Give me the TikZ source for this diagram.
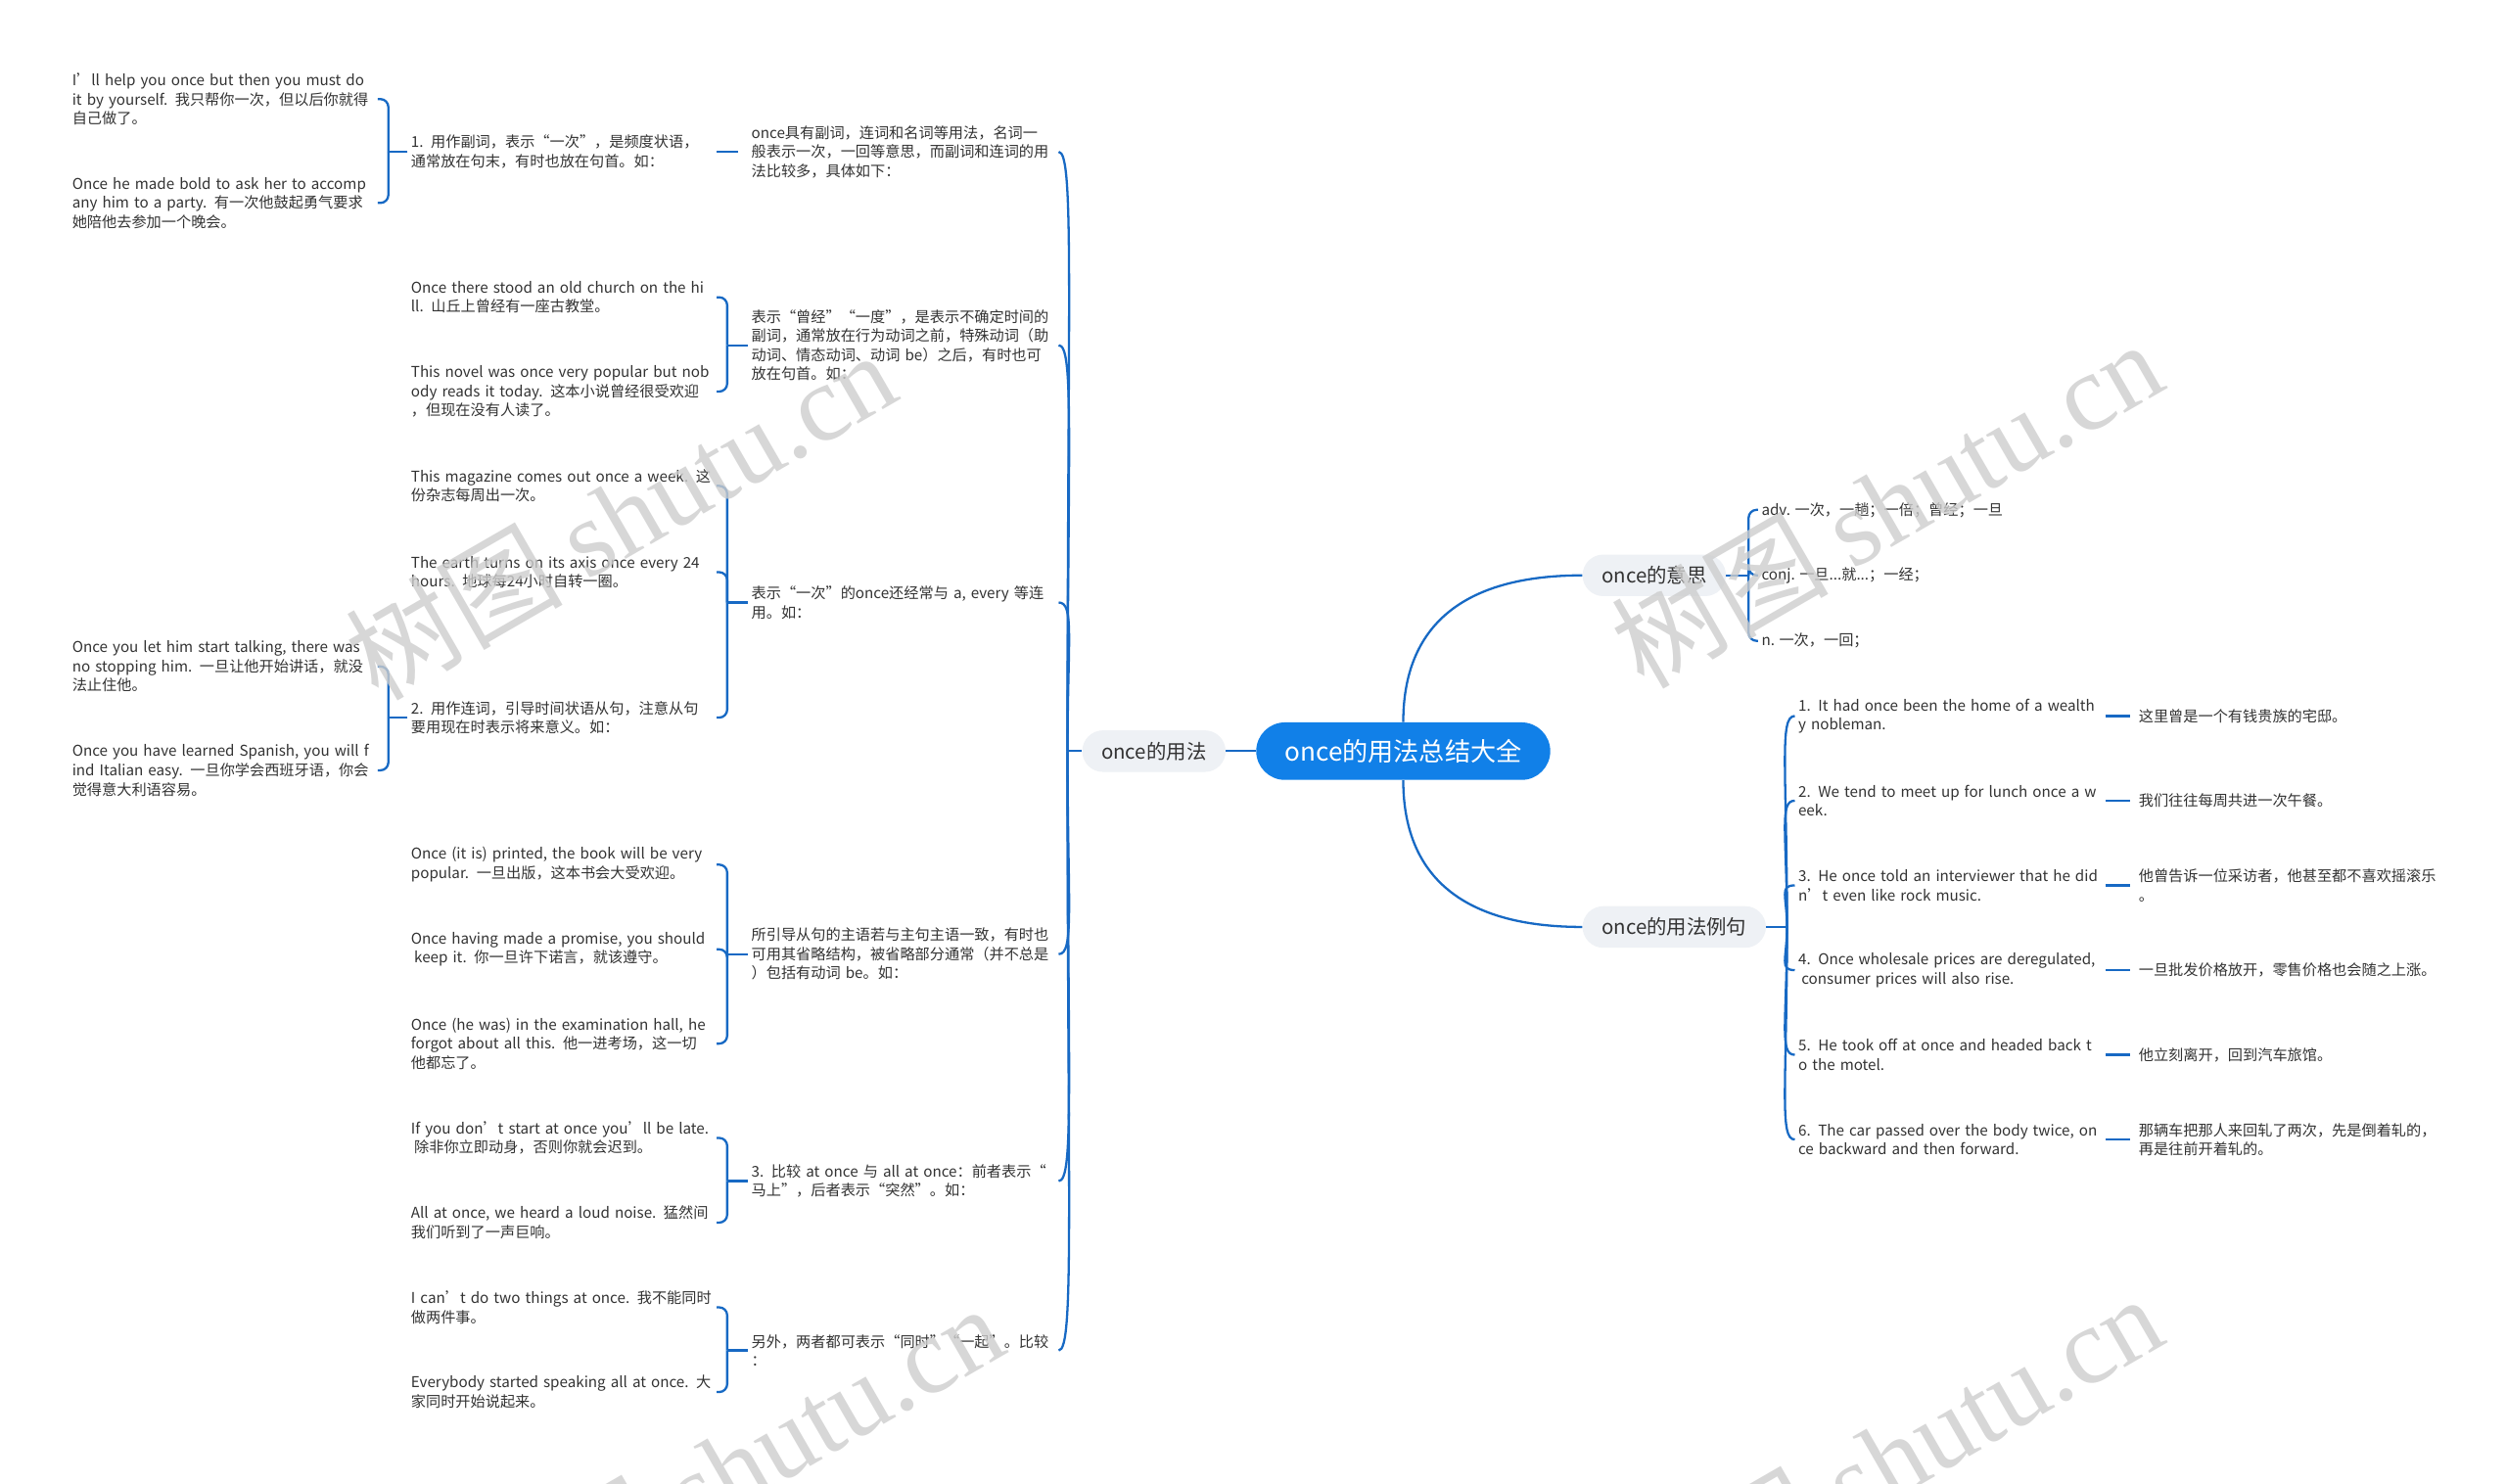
\documentclass[tikz,border=0pt]{standalone}
\usepackage{fontspec}
\setmainfont{Noto Sans CJK SC}
\newfontfamily\wmserif{Liberation Serif}
\usetikzlibrary{calc}
\definecolor{mylink}{RGB}{23,105,196}
\definecolor{myroot}{RGB}{17,128,232}
\definecolor{mybranch}{RGB}{238,241,245}
\definecolor{mytext}{RGB}{51,51,51}
\definecolor{mywater}{RGB}{205,205,205}
\tikzset{
  rootbox/.style={rectangle, fill=myroot, text=white, rounded corners=18pt,
    minimum height=36pt, minimum width=184pt, font=\fontsize{16}{18}\selectfont},
  branchbox/.style={rectangle, fill=mybranch, text=mytext, rounded corners=13pt,
    minimum height=26pt, inner xsep=12pt, font=\fontsize{12.5}{14}\selectfont},
  leaf/.style={anchor=west, inner sep=2pt, align=left, text=mytext,
    font=\fontsize{9.3}{12}\selectfont},
  leafA/.style={leaf, text width=189pt},
  leafB/.style={leaf, text width=189pt},
  leafC/.style={leaf, text width=190pt},
  leafE/.style={leaf, text width=190pt},
  leafZ/.style={leaf, text width=192pt},
  link/.style={draw=mylink, line width=1.4pt},
  bracehook/.style={link, rounded corners=5pt},
  wmark/.style={text=mywater, opacity=0.8, rotate=30, font=\fontsize{68}{68}\selectfont}
}

\begin{document}
\begin{tikzpicture}[x=1pt, y=-1pt]
  \useasboundingbox (0,0) rectangle (1568,928);
  \clip (0,0) rectangle (1568,928);
  \fill[white] (0,0) rectangle (1568,928);

  % root and main branches
  \node[rootbox] (root) at (878,470) {once的用法总结大全};
  \node[branchbox] (usage) at (722,470) {once的用法};
  \node[branchbox, anchor=west] (meaning) at (990,360) {once的意思};
  \node[branchbox, anchor=west] (example) at (990,580) {once的用法例句};
  \draw[link] (root.west) -- (usage.east);
  \draw[link] (root.north) .. controls +(0,-60) and +(-75,0) .. (meaning.west);
  \draw[link] (root.south) .. controls +(0,60) and +(-75,0) .. (example.west);

  % once的用法
  \node[leafC] (ua) at (468,95) {once具有副词，连词和名词等用法，名词一\\般表示一次，一回等意思，而副词和连词的用\\法比较多，具体如下：};
  \node[leafC] (ub) at (468,216) {表示“曾经”“一度”，是表示不确定时间的\\副词，通常放在行为动词之前，特殊动词（助\\动词、情态动词、动词 be）之后，有时也可\\放在句首。如：};
  \node[leafC] (uc) at (468,377) {表示“一次”的once还经常与 a, every 等连\\用。如：};
  \node[leafC] (ud) at (468,597) {所引导从句的主语若与主句主语一致，有时也\\可用其省略结构，被省略部分通常（并不总是\\）包括有动词 be。如：};
  \node[leafC] (ue) at (468,739) {3. 比较 at once 与 all at once：前者表示“\\马上”，后者表示“突然”。如：};
  \node[leafC] (uf) at (468,845) {另外，两者都可表示“同时”“一起”。比较\\：};
  \coordinate (usp) at ([xshift=-9pt]usage.west);
  \draw[link] (usage.west) -- (usp);
  \foreach \c in {ua,ub,uc,ud,ue,uf}
    \draw[link] (usp) .. controls ($(usp)!0.75!(usp |- \c.east)$) and ([xshift=10pt]\c.east) .. (\c.east);

  % examples, second column
  \node[leafB] (a1) at (255,95) {1. 用作副词，表示“一次”，是频度状语，\\通常放在句末，有时也放在句首。如：};
  \node[leafB] (b1) at (255,186) {Once there stood an old church on the hi\\ll. 山丘上曾经有一座古教堂。};
  \node[leafB] (b2) at (255,245) {This novel was once very popular but nob\\ody reads it today. 这本小说曾经很受欢迎\\，但现在没有人读了。};
  \node[leafB] (c1) at (255,304) {This magazine comes out once a week. 这\\份杂志每周出一次。};
  \node[leafB] (c2) at (255,358) {The earth turns on its axis once every 24\\hours. 地球每24小时自转一圈。};
  \node[leafB] (c3) at (255,449) {2. 用作连词，引导时间状语从句，注意从句\\要用现在时表示将来意义。如：};
  \node[leafB] (d1) at (255,541) {Once (it is) printed, the book will be very\\popular. 一旦出版，这本书会大受欢迎。};
  \node[leafB] (d2) at (255,594) {Once having made a promise, you should\\\hspace*{2pt}keep it. 你一旦许下诺言，就该遵守。};
  \node[leafB] (d3) at (255,653) {Once (he was) in the examination hall, he\\forgot about all this. 他一进考场，这一切\\他都忘了。};
  \node[leafB] (e1) at (255,712) {If you don’t start at once you’ll be late.\\\hspace*{2pt}除非你立即动身，否则你就会迟到。};
  \node[leafB] (e2) at (255,765) {All at once, we heard a loud noise. 猛然间\\我们听到了一声巨响。};
  \node[leafB] (f1) at (255,818) {I can’t do two things at once. 我不能同时\\做两件事。};
  \node[leafB] (f2) at (255,871) {Everybody started speaking all at once. 大\\家同时开始说起来。};
  \draw[link, shorten >=6pt] (a1.east) -- (ua.west);
  \draw[link] (ub.west) -- ++(-13,0);
  \foreach \c in {b1,b2} \draw[bracehook] ([xshift=-13pt]ub.west) |- (\c.east);
  \draw[link] (uc.west) -- ++(-13,0);
  \foreach \c in {c1,c2,c3} \draw[bracehook] ([xshift=-13pt]uc.west) |- (\c.east);
  \draw[link] (ud.west) -- ++(-13,0);
  \foreach \c in {d1,d2,d3} \draw[bracehook] ([xshift=-13pt]ud.west) |- (\c.east);
  \draw[link] (ue.west) -- ++(-13,0);
  \foreach \c in {e1,e2} \draw[bracehook] ([xshift=-13pt]ue.west) |- (\c.east);
  \draw[link] (uf.west) -- ++(-13,0);
  \foreach \c in {f1,f2} \draw[bracehook] ([xshift=-13pt]uf.west) |- (\c.east);

  % examples, first column
  \node[leafA] (a1x) at (43,62) {I’ll help you once but then you must do\\it by yourself. 我只帮你一次，但以后你就得\\自己做了。};
  \node[leafA] (a1y) at (43,127) {Once he made bold to ask her to accomp\\any him to a party. 有一次他鼓起勇气要求\\她陪他去参加一个晚会。};
  \node[leafA] (c3x) at (43,417) {Once you let him start talking, there was\\no stopping him. 一旦让他开始讲话，就没\\法止住他。};
  \node[leafA] (c3y) at (43,482) {Once you have learned Spanish, you will f\\ind Italian easy. 一旦你学会西班牙语，你会\\觉得意大利语容易。};
  \draw[link] (a1.west) -- ++(-12,0);
  \foreach \c in {a1x,a1y} \draw[bracehook] ([xshift=-12pt]a1.west) |- (\c.east);
  \draw[link] (c3.west) -- ++(-12,0);
  \foreach \c in {c3x,c3y} \draw[bracehook] ([xshift=-12pt]c3.west) |- (\c.east);

  % once的意思
  \node[leaf] (m1) at (1100,319) {adv. 一次，一趟；一倍；曾经；一旦};
  \node[leaf] (m2) at (1100,360) {conj. 一旦...就...；一经；};
  \node[leaf] (m3) at (1100,401) {n. 一次，一回；};
  \draw[link] (meaning.east) -- ++(14,0);
  \foreach \c in {m1,m2,m3} \draw[bracehook] ([xshift=14pt]meaning.east) |- (\c.west);

  % once的用法例句
  \node[leafE] (x1) at (1123,448) {1. It had once been the home of a wealth\\y nobleman.};
  \node[leafE] (x2) at (1123,501) {2. We tend to meet up for lunch once a w\\eek.};
  \node[leafE] (x3) at (1123,554) {3. He once told an interviewer that he did\\n't even like rock music.};
  \node[leafE] (x4) at (1123,607) {4. Once wholesale prices are deregulated,\\\hspace*{2pt}consumer prices will also rise.};
  \node[leafE] (x5) at (1123,660) {5. He took off at once and headed back t\\o the motel.};
  \node[leafE] (x6) at (1123,713) {6. The car passed over the body twice, on\\ce backward and then forward.};
  \node[leafZ] (t1) at (1336,448) {这里曾是一个有钱贵族的宅邸。};
  \node[leafZ] (t2) at (1336,501) {我们往往每周共进一次午餐。};
  \node[leafZ] (t3) at (1336,554) {他曾告诉一位采访者，他甚至都不喜欢摇滚乐\\。};
  \node[leafZ] (t4) at (1336,607) {一旦批发价格放开，零售价格也会随之上涨。};
  \node[leafZ] (t5) at (1336,660) {他立刻离开，回到汽车旅馆。};
  \node[leafZ] (t6) at (1336,713) {那辆车把那人来回轧了两次，先是倒着轧的，\\再是往前开着轧的。};
  \coordinate (esp) at ([xshift=13pt]example.east);
  \draw[link] (example.east) -- (esp);
  \foreach \i in {1,...,6} {
    \draw[link] (esp) .. controls ($(esp)!0.75!(esp |- x\i.west)$) and ([xshift=-10pt]x\i.west) .. (x\i.west);
    \draw[link, shorten >=3pt] (x\i.east) -- (t\i.west);
  }

  % watermarks
  \node[wmark] at (388,322) {树图 {\wmserif shutu.cn}};
  \node[wmark] at (1180,315) {树图 {\wmserif shutu.cn}};
  \node[wmark] at (455,918) {树图 {\wmserif shutu.cn}};
  \node[wmark] at (1180,912) {树图 {\wmserif shutu.cn}};
\end{tikzpicture}
\end{document}
